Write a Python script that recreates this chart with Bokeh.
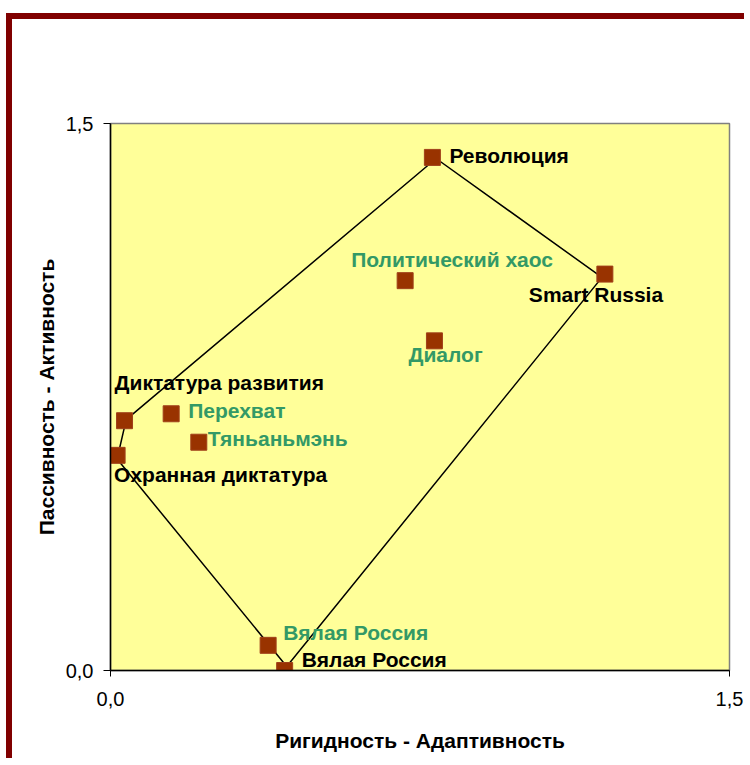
from bokeh.plotting import figure
from bokeh.models import ColumnDataSource, FixedTicker
from bokeh.core.properties import value
from bokeh.embed import file_html
from bokeh.resources import INLINE

# ---- data ----
scenarios = ["Революция", "Smart Russia", "Политический хаос", "Диалог",
             "Диктатура развития", "Перехват", "Тяньаньмэнь",
             "Охранная диктатура", "Вялая Россия", "Вялая Россия"]
rigidity_adaptivity = [0.78, 1.198, 0.714, 0.785, 0.034, 0.147, 0.214, 0.016, 0.382, 0.422]
passivity_activity = [1.407, 1.087, 1.069, 0.904, 0.685, 0.704, 0.626, 0.590, 0.069, 0.0]
label_group = ["black", "black", "green", "green", "black", "green", "green",
               "black", "green", "black"]

# boundary polygon (separate series)
hull_x = [0.789, 1.191, 0.427, 0.016, 0.038, 0.789]
hull_y = [1.404, 1.078, 0.011, 0.580, 0.688, 1.404]

x_ticks = [0, 1.5]
y_ticks = [0, 1.5]
tick_labels = ["0,0", "1,5"]

# ---- layout / style (not data) ----
label_dx = [17, -76, -54, -26, -10, 17, 9, -3, 15, 17]
label_dy = [-2, 20, -21, 14, -38, -3, -4, 19, -13, -11]
group_colors = {"black": "#000000", "green": "#339966"}

FONT = "Liberation Sans"

p = figure(width=738, height=745, x_range=(0, 1.5), y_range=(0, 1.5),
           output_backend="svg", toolbar_location=None,
           min_border_left=98, min_border_top=104, min_border_right=21,
           min_border_bottom=94)
p.styles = {"border-top": "6px solid #800000", "border-left": "6px solid #800000",
            "margin-top": "13px", "margin-left": "6px"}

p.background_fill_color = "#FFFF99"
p.border_fill_color = "#FFFFFF"
p.outline_line_color = "#808080"
p.outline_line_width = 1.5
p.grid.visible = False

for ax, ticks, title in ((p.xaxis, x_ticks, "Ригидность - Адаптивность"),
                         (p.yaxis, y_ticks, "Пассивность - Активность")):
    ax.ticker = FixedTicker(ticks=ticks)
    ax.major_label_overrides = {t: lab for t, lab in zip(ticks, tick_labels)}
    ax.axis_line_color = "#000000"
    ax.axis_line_width = 1.5
    ax.major_tick_line_color = "#000000"
    ax.major_tick_in = 0
    ax.minor_tick_line_color = None
    ax.major_label_text_font = FONT
    ax.major_label_text_font_size = "20px"
    ax.major_label_text_color = "#000000"
    ax.axis_label = title
    ax.axis_label_text_font = FONT
    ax.axis_label_text_font_size = "21px"
    ax.axis_label_text_font_style = "bold"
    ax.axis_label_text_color = "#000000"

p.xaxis.major_tick_out = 6
p.xaxis.major_label_standoff = 15
p.xaxis.axis_label_standoff = 20
p.yaxis.major_tick_out = 7
p.yaxis.major_label_standoff = 10
p.yaxis.axis_label_standoff = 5

p.line(hull_x, hull_y, line_color="#000000", line_width=1.5)

src = ColumnDataSource(dict(
    x=rigidity_adaptivity, y=passivity_activity, name=scenarios,
    color=[group_colors[g] for g in label_group],
    dx=label_dx, dy=label_dy))

p.scatter("x", "y", source=src, marker="square", size=16,
          fill_color="#993300", line_color="#A0401A", line_width=1)

p.text("x", "y", text="name", source=src, x_offset="dx", y_offset="dy",
       text_color="color", text_font=value(FONT), text_font_size="21px",
       text_font_style="bold", text_align="left", text_baseline="middle")

open("out.html", "w").write(file_html(p, INLINE))
